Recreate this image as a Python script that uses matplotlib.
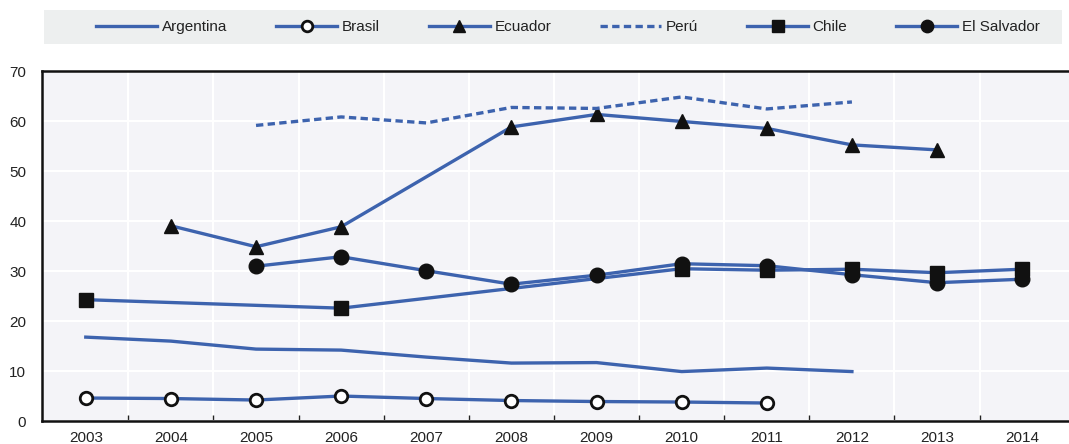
import matplotlib
matplotlib.use("Agg")
import matplotlib.pyplot as plt
from matplotlib.patches import Rectangle

plt.rcParams['font.family'] = ['Liberation Sans Narrow', 'Liberation Sans', 'DejaVu Sans']

years_arg = [2003, 2004, 2005, 2006, 2007, 2008, 2009, 2010, 2011, 2012]
argentina = [16.8, 16.0, 14.4, 14.2, 12.8, 11.6, 11.7, 9.9, 10.6, 9.9]

years_bra = [2003, 2004, 2005, 2006, 2007, 2008, 2009, 2010, 2011]
brasil = [4.6, 4.5, 4.2, 5.0, 4.5, 4.1, 3.9, 3.8, 3.6]

years_ecu = [2004, 2005, 2006, 2008, 2009, 2010, 2011, 2012, 2013]
ecuador = [39.1, 34.9, 38.9, 58.9, 61.4, 60.0, 58.6, 55.3, 54.3]

years_per = [2005, 2006, 2007, 2008, 2009, 2010, 2011, 2012]
peru = [59.2, 60.9, 59.7, 62.8, 62.6, 64.9, 62.5, 63.9]

years_chl = [2003, 2006, 2010, 2011, 2012, 2013, 2014]
chile = [24.3, 22.6, 30.5, 30.2, 30.4, 29.7, 30.4]

years_slv = [2005, 2006, 2007, 2008, 2009, 2010, 2011, 2012, 2013, 2014]
el_salvador = [31.0, 32.9, 30.1, 27.4, 29.2, 31.5, 31.1, 29.3, 27.7, 28.4]

tick_years = list(range(2003, 2015))
y_ticks = [0, 10, 20, 30, 40, 50, 60, 70]

BLUE = '#3D63AE'
MK = '#111111'
TXT = '#222222'

W, H = 1069, 444
fig = plt.figure(figsize=(W / 100, H / 100), dpi=100)
ax = fig.add_axes([41.5 / W, 1 - 421 / H, (W - 41.5) / W, (421 - 71.5) / H])
ax.set_facecolor('#F4F4F8')

lw = 2.4
ax.plot(years_arg, argentina, color=BLUE, lw=lw, label='Argentina', zorder=3)
ax.plot(years_bra, brasil, color=BLUE, lw=lw, marker='o', ms=9, mfc='white',
        mec=MK, mew=2, label='Brasil', zorder=3)
ax.plot(years_ecu, ecuador, color=BLUE, lw=lw, marker='^', ms=10, mfc=MK,
        mec=MK, label='Ecuador', zorder=3)
ax.plot(years_per, peru, color=BLUE, lw=lw, ls=(0, (2.2, 1.3)), label='Perú', zorder=3)
ax.plot(years_chl, chile, color=BLUE, lw=lw, marker='s', ms=9.5, mfc=MK,
        mec=MK, label='Chile', zorder=3)
ax.plot(years_slv, el_salvador, color=BLUE, lw=lw, marker='o', ms=10.5, mfc=MK,
        mec=MK, label='El Salvador', zorder=4)

ax.set_xlim(2002.48, 2014.55)
ax.set_ylim(0, 70)
ax.set_yticks(y_ticks)
ax.set_xticks(tick_years)
ax.set_xticks([y + 0.5 for y in tick_years[:-1]], minor=True)
ax.tick_params(axis='x', which='major', length=0, pad=7, labelsize=11, colors=TXT)
ax.tick_params(axis='x', which='minor', length=4, direction='in', width=1, color='#222222')
ax.tick_params(axis='y', which='major', length=0, pad=11, labelsize=11, colors=TXT)

ax.grid(True, which='major', axis='y', color='white', lw=1.5, zorder=0)
ax.grid(True, which='minor', axis='x', color='white', lw=1.5, zorder=0)
ax.set_axisbelow(True)

ax.spines['right'].set_visible(False)
for s in ['left', 'top', 'bottom']:
    ax.spines[s].set_color('#111111')
    ax.spines[s].set_linewidth(1.8)

# legend background band
fig.patches.append(Rectangle((44 / W, 1 - 44 / H), (1062 - 44) / W, 34 / H,
                             transform=fig.transFigure, facecolor='#EDEFEF',
                             edgecolor='none', zorder=0))

handles, labels = ax.get_legend_handles_labels()
leg = fig.legend(handles, labels, loc='center', ncol=6,
                 bbox_to_anchor=(568 / W, 1 - 27 / H),
                 frameon=False, fontsize=11, handlelength=4.0, handletextpad=0.3,
                 borderaxespad=0, borderpad=0, columnspacing=3.2, markerscale=0.85)
for t in leg.get_texts():
    t.set_color(TXT)

fig.savefig('out.png', dpi=100)
